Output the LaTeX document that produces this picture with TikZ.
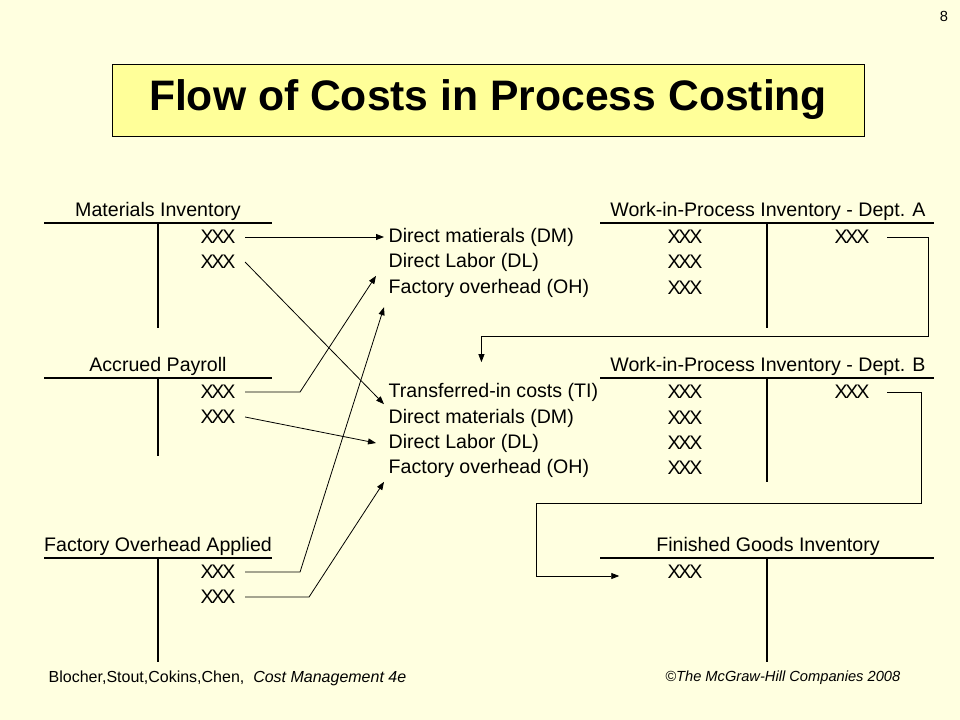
\documentclass[tikz,border=0pt]{standalone}
\usepackage{fontspec}
\setmainfont{Liberation Sans}
\definecolor{slidebg}{RGB}{255, 255, 224}
\definecolor{titlefill}{RGB}{255, 255, 153}
\usetikzlibrary{arrows.meta, positioning, calc}
\newcommand{\xxx}{X\kern-.11em X\kern-.11em X}

\begin{document}
\begin{tikzpicture}[x=0.75pt, y=-0.75pt,
  acct/.style={font=\fontsize{14.7}{17}\selectfont, inner sep=4.5pt},
  amt/.style={font=\fontsize{14.7}{17}\selectfont, inner xsep=7pt},
  item/.style={font=\fontsize{14.7}{17}\selectfont, anchor=west},
  foot/.style={font=\fontsize{11}{13}\selectfont},
  thinrule/.style={line width=0.8pt},
  thickrule/.style={line width=1.5pt},
  flow/.style={line width=0.6pt, -{Triangle[length=6pt, width=4.5pt]}}]

  % background and title
  \useasboundingbox (0,0) rectangle (960,720);
  \fill[slidebg] (0,0) rectangle (960,720);
  \node[draw=black, line width=0.6pt, fill=titlefill, minimum width=564pt, minimum height=54pt, inner sep=0pt,
    font=\fontsize{32}{38}\selectfont\bfseries] (title) at (488,100) {Flow of Costs in Process Costing};
  \node[foot] (pagenum) at (944,16) {8};

  % Materials Inventory
  \node[acct] (matT) at (158,211) {Materials Inventory};
  \draw[thinrule] (44,223) -- (272,223);
  \draw[thinrule] (158,223) -- (158,328);
  \node[amt] (mat1) at (218,237) {\xxx};
  \node[amt] (mat2) at (218,262) {\xxx};

  % Accrued Payroll
  \node[acct] (payT) at (158,366) {Accrued Payroll};
  \draw[thinrule] (44,378) -- (272,378);
  \draw[thinrule] (158,378) -- (158,456);
  \node[amt] (pay1) at (218,392) {\xxx};
  \node[amt] (pay2) at (218,417) {\xxx};

  % Factory Overhead Applied
  \node[acct] (ohT) at (158,546) {Factory Overhead Applied};
  \draw[thickrule] (44,558) -- (272,558);
  \draw[thinrule] (158,558) -- (158,662);
  \node[amt] (oh1) at (218,572) {\xxx};
  \node[amt] (oh2) at (218,597) {\xxx};

  % Cost elements, Dept. A
  \node[item] (dmA) at (384,237) {Direct matierals (DM)};
  \node[item] (dlA) at (384,262) {Direct Labor (DL)};
  \node[item] (ohA) at (384,288) {Factory overhead (OH)};

  % Cost elements, Dept. B
  \node[item] (tiB) at (384,392) {Transferred-in costs (TI)};
  \node[item] (dmB) at (384,418) {Direct materials (DM)};
  \node[item] (dlB) at (384,443) {Direct Labor (DL)};
  \node[item] (ohB) at (384,468) {Factory overhead (OH)};

  % Work-in-Process Inventory - Dept. A
  \node[acct] (wipAT) at (768,211) {Work-in-Process Inventory - Dept. A};
  \draw[thickrule] (600,223) -- (934,223);
  \draw[thickrule] (767,223) -- (767,328);
  \node[amt] (wipA1) at (685,237) {\xxx};
  \node[amt] (wipA2) at (685,262) {\xxx};
  \node[amt] (wipA3) at (685,288) {\xxx};
  \node[amt] (wipAout) at (852,237) {\xxx};

  % Work-in-Process Inventory - Dept. B
  \node[acct] (wipBT) at (768,366) {Work-in-Process Inventory - Dept. B};
  \draw[thickrule] (600,378) -- (934,378);
  \draw[thickrule] (767,378) -- (767,482);
  \node[amt] (wipB1) at (685,392) {\xxx};
  \node[amt] (wipB2) at (685,418) {\xxx};
  \node[amt] (wipB3) at (685,443) {\xxx};
  \node[amt] (wipB4) at (685,468) {\xxx};
  \node[amt] (wipBout) at (852,392) {\xxx};

  % Finished Goods Inventory
  \node[acct] (fgT) at (768,546) {Finished Goods Inventory};
  \draw[thickrule] (600,558) -- (934,558);
  \draw[thickrule] (767,558) -- (767,662);
  \node[amt] (fg1) at (685,572) {\xxx};

  % flows into the departments
  \draw[flow] (mat1.east) -- (mat1.east -| dmA.west);
  \draw[flow] (mat2.east) -- (dmB.north west);
  \draw[flow] (pay1.east) -- ++(55,0) -- ([xshift=-6pt]dlA.south west);
  \draw[flow] (pay2.east) -- ([xshift=-6pt]dlB.west);
  \draw[flow] (oh1.east) -- ++(55,0) -- ([yshift=-4pt]ohA.south west);
  \draw[flow] (oh2.east) -- ++(64,0) -- (ohB.south west);

  % transfers
  \coordinate (bendA) at (928,336);
  \coordinate (bendB) at (921,503);
  \coordinate (bendC) at (536,576);
  \draw[flow] ([xshift=6pt]wipAout.east) -| (bendA) -| ([xshift=-9pt, yshift=12pt]tiB.north);
  \draw[flow] ([xshift=6pt]wipBout.east) -| (bendB) -| (bendC) -- ([xshift=-29pt]fg1.west |- bendC);

  % footer
  \node[foot, font=\fontsize{12}{14}\selectfont, anchor=west] (src) at (44,678) {Blocher,Stout,Cokins,Chen, \ \textit{Cost Management 4e}};
  \node[foot, anchor=east] (copy) at (905,678) {\textit{©The McGraw-Hill Companies 2008}};
\end{tikzpicture}
\end{document}
